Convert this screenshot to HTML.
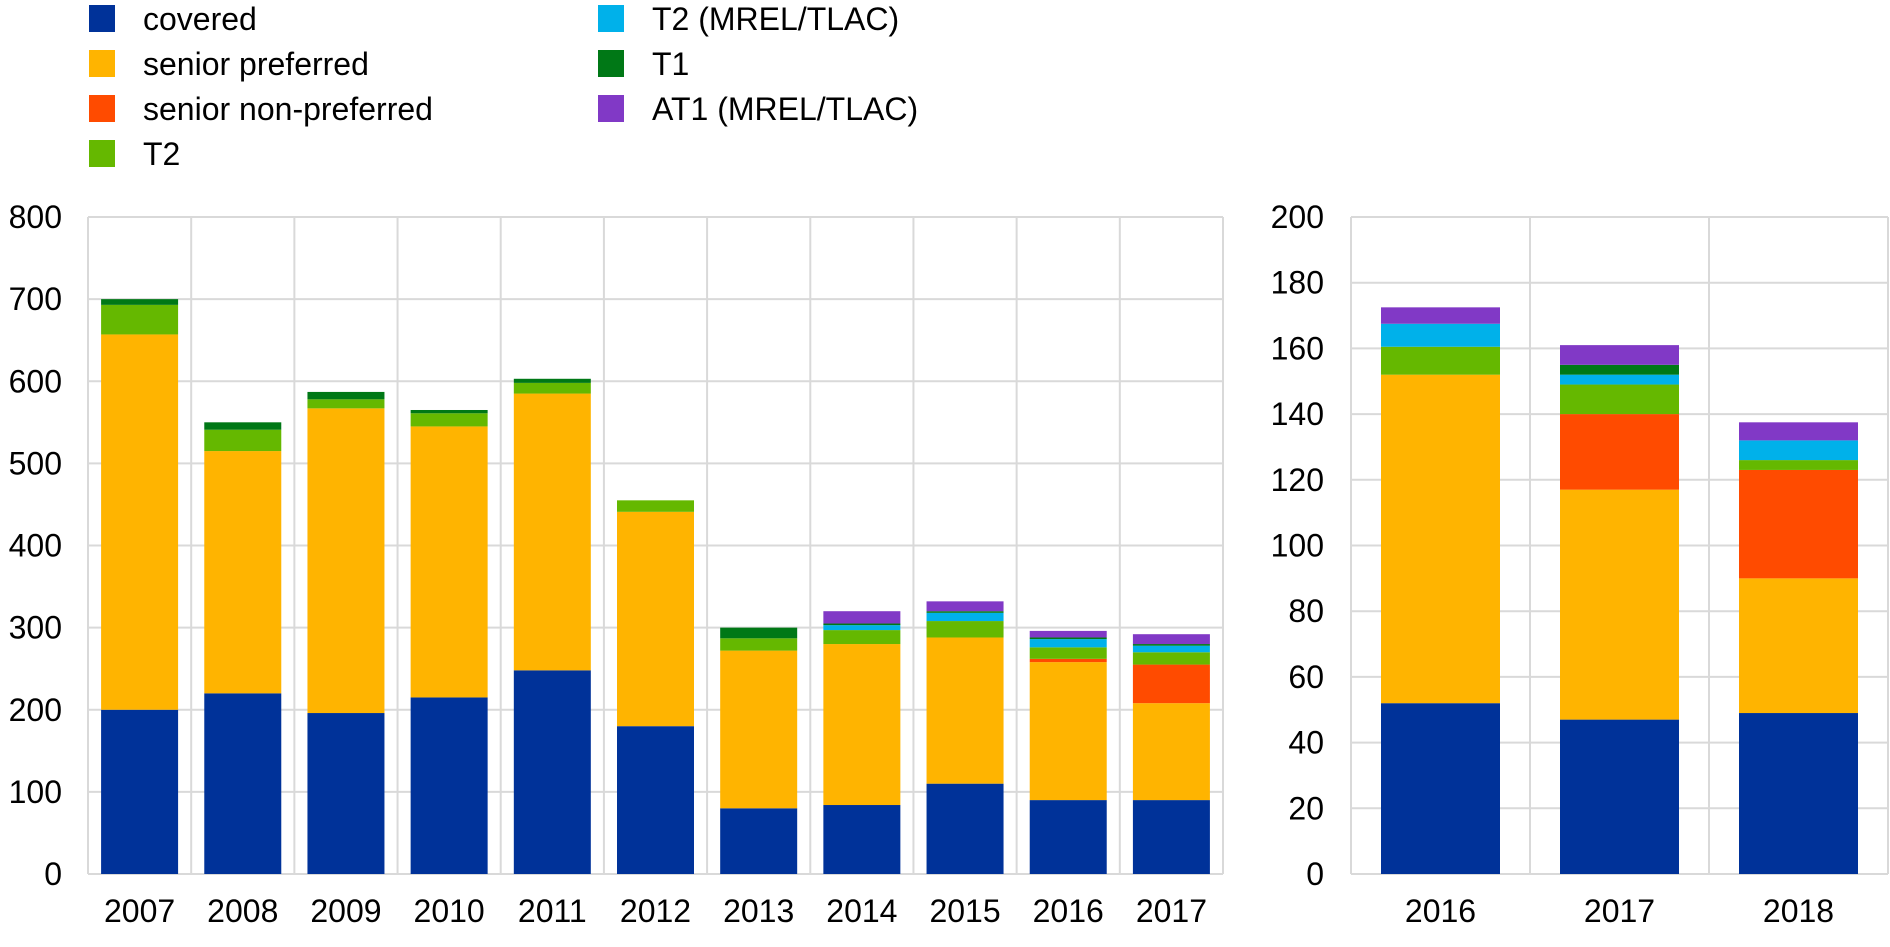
<!DOCTYPE html>
<html><head><meta charset="utf-8"><style>
body{margin:0;background:#fff;font-family:"Liberation Sans",Arial,sans-serif}
svg text{font-family:"Liberation Sans",Arial,sans-serif;fill:#000}
</style></head><body>
<svg id="c" width="1890" height="942" xmlns="http://www.w3.org/2000/svg"></svg>
<script>
const series = ["covered","senior preferred","senior non-preferred","T2","T2 (MREL/TLAC)","T1","AT1 (MREL/TLAC)"];
const colors = ["#003299","#FFB400","#FF4B00","#65B800","#00B1EA","#007816","#8139C6"];
const leftYears = ["2007","2008","2009","2010","2011","2012","2013","2014","2015","2016","2017"];
const leftCovered = [200,220,196,215,248,180,80,84,110,90,90];
const leftSenior = [457,295,371,330,337,261,192,196,178,168,118];
const leftSNP = [0,0,0,0,0,0,0,0,0,4,47];
const leftT2 = [36,26,11,16,13,14,15,17,20,14,15];
const leftT2M = [0,0,0,0,0,0,0,6,10,10,8];
const leftT1 = [7,9,9,4,5,0,13,2,2,2,2];
const leftAT1 = [0,0,0,0,0,0,0,15,12,8,12];
const leftTicks = [0,100,200,300,400,500,600,700,800];
const rightYears = ["2016","2017","2018"];
const rightCovered = [52,47,49];
const rightSenior = [100,70,41];
const rightSNP = [0,23,33];
const rightT2 = [8.5,9,3];
const rightT2M = [7,3,6];
const rightT1 = [0,3,0];
const rightAT1 = [5,6,5.5];
const rightTicks = [0,20,40,60,80,100,120,140,160,180,200];

const svg=document.getElementById('c');const NS="http://www.w3.org/2000/svg";
function mk(t,a,txt){const e=document.createElementNS(NS,t);for(const k in a)e.setAttribute(k,a[k]);if(txt!==undefined)e.textContent=txt;svg.appendChild(e);return e;}

const legPos=[[89,18],[89,63],[89,108],[89,153],[598,18],[598,63],[598,108]];
series.forEach((s,i)=>{
  const r=mk('rect',{x:legPos[i][0],y:legPos[i][1]-13,width:26,height:27,fill:colors[i]});
  
  
  const t=mk('text',{x:legPos[i][0]+54,y:legPos[i][1]+12,'font-size':32},s);
  
  
});

function chart(cfg){
  const {x0,x1,y0,y1,max,ticks,cats,data,bw,labelX,name}=cfg;
  const y=v=>y0-(v/max)*(y0-y1);
  const n=cats.length,cw=(x1-x0)/n;
  ticks.forEach(t=>{
    const g=mk('line',{x1:x0,x2:x1,y1:y(t),y2:y(t),stroke:'#d9d9d9','stroke-width':2});
    
    
    const l=mk('text',{x:labelX,y:y(t)+11,'font-size':32,'text-anchor':'end'},String(t));
    
    
  });
  for(let i=0;i<=n;i++){
    const v=mk('line',{x1:x0+i*cw,x2:x0+i*cw,y1:y1,y2:y0,stroke:'#d9d9d9','stroke-width':2});
    
    
  }
  cats.forEach((c,i)=>{
    let acc=0;const bx=x0+i*cw+(cw-bw)/2;
    data.forEach((arr,s)=>{
      const v=arr[i];if(v>0){
        const r=mk('rect',{x:bx,y:y(acc+v),width:bw,height:y(acc)-y(acc+v),fill:colors[s]});
        
        
      }
      acc+=v;
    });
    const t=mk('text',{x:x0+i*cw+cw/2,y:y0+48,'font-size':32,'text-anchor':'middle'},c);
    
    
  });
}
chart({name:'left',x0:88,x1:1223,y0:874,y1:217,max:800,ticks:leftTicks,cats:leftYears,bw:77,labelX:62,
  data:[leftCovered,leftSenior,leftSNP,leftT2,leftT2M,leftT1,leftAT1]});
chart({name:'right',x0:1351,x1:1888,y0:874,y1:217,max:200,ticks:rightTicks,cats:rightYears,bw:119,labelX:1324,
  data:[rightCovered,rightSenior,rightSNP,rightT2,rightT2M,rightT1,rightAT1]});
</script>
</body></html>
